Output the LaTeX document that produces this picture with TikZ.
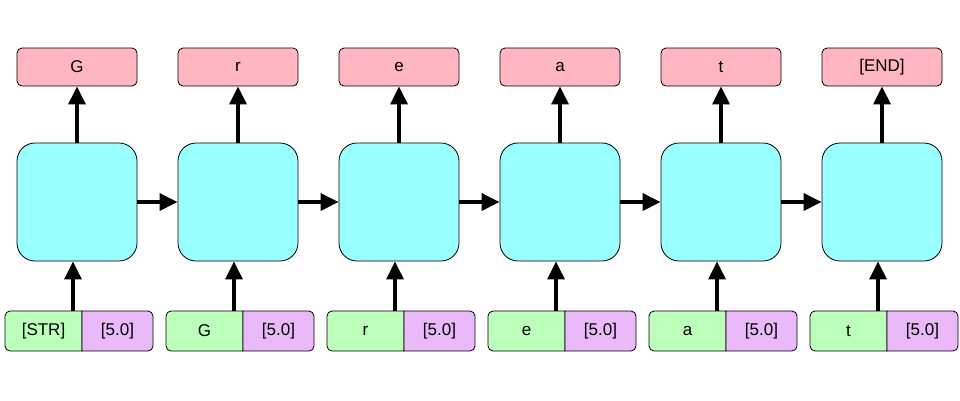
\documentclass[tikz,border=0pt]{standalone}
\usepackage{fontspec}
\setmainfont{Liberation Sans}
\usetikzlibrary{arrows.meta}
\definecolor{outc}{HTML}{FFB6C1}
\definecolor{cellc}{HTML}{99FFFF}
\definecolor{inc}{HTML}{BBFFBB}
\definecolor{valc}{HTML}{E9B9F9}
\tikzset{
  outbox/.style={draw, fill=outc, rounded corners=5, minimum width=120, minimum height=38, inner sep=0, font=\fontsize{17}{19}\selectfont, line width=0.8},
  cellbox/.style={draw, fill=cellc, rounded corners=18, minimum width=120, minimum height=118, inner sep=0, line width=0.8},
  lbl/.style={inner sep=0, font=\fontsize{17}{19}\selectfont},
  conn/.style={line width=3.2, -{Triangle[length=18,width=17]}},
  pairline/.style={line width=0.8}
}
\begin{document}
\begin{tikzpicture}[x=1pt,y=-1pt]
\useasboundingbox (0,0) rectangle (960,400);
\foreach \i/\o/\inp in {0/G/[STR],1/r/G,2/e/r,3/a/e,4/t/a,5/[END]/t}{
  \pgfmathsetmacro{\xc}{77+161*\i}
  \node[outbox] (o\i) at (\xc,67) {\o};
  \node[cellbox] (c\i) at (\xc,202) {};
  \draw[pairline, fill=inc] (\xc+5,311) [rounded corners=5] -- (\xc-72,311) -- (\xc-72,351) [sharp corners] -- (\xc+5,351) -- cycle;
  \draw[pairline, fill=valc] (\xc+5,311) [rounded corners=5] -- (\xc+76,311) -- (\xc+76,351) [sharp corners] -- (\xc+5,351) -- cycle;
  \node[lbl] (i\i) at (\xc-33.5,331) {\inp};
  \node[lbl] (v\i) at (\xc+40.5,331) {[5.0]};
  \coordinate (b\i) at (\xc-4,311);
  \draw[conn] (b\i) -- (b\i |- c\i.south);
  \draw[conn] (c\i.north) -- (o\i.south);
}
\foreach \i [count=\j] in {0,...,4}{
  \draw[conn] (c\i.east) -- (c\j.west);
}
\end{tikzpicture}
\end{document}
